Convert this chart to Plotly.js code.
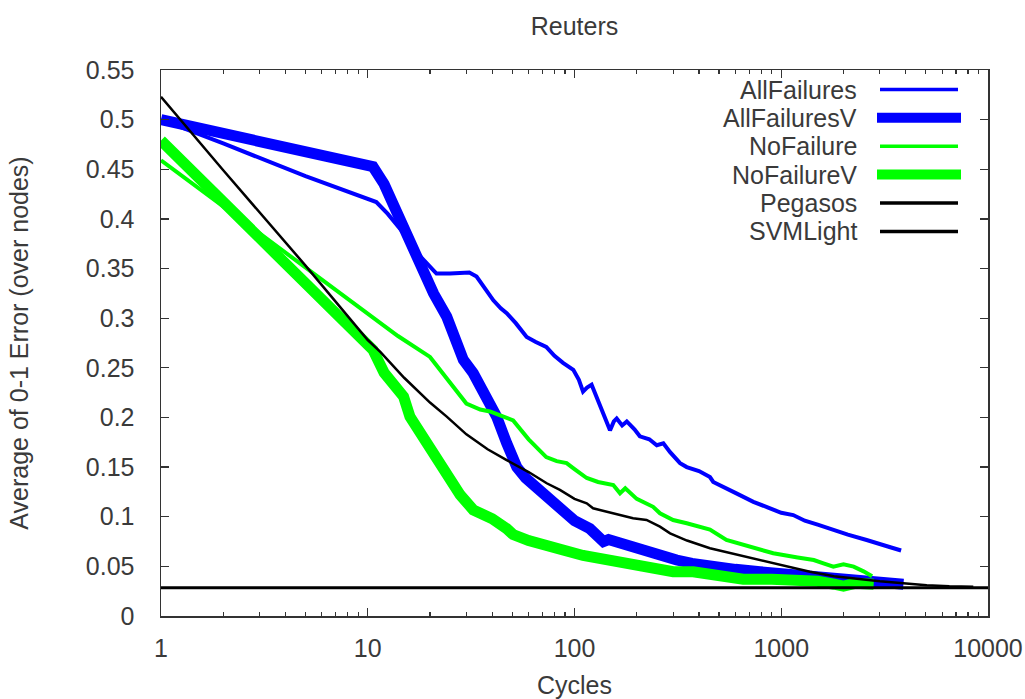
<!DOCTYPE html>
<html><head><meta charset="utf-8">
<script src="https://cdn.plot.ly/plotly-3.0.1.min.js"></script>
<style>html,body{margin:0;padding:0;background:#fff}</style>
</head><body><div id="chart" style="width:1025px;height:699px"></div>
<script>
// ---- data ----
const chartTitle = "Reuters";
const xTitle = "Cycles";
const yTitle = "Average of 0-1 Error (over nodes)";
const xTickVals = [1, 10, 100, 1000, 10000];
const xTickText = ["1", "10", "100", "1000", "10000"];

const allFailuresX = [1, 2, 5, 11, 12.5, 15, 18, 21.5, 25, 31, 33.6, 37, 40.5, 44, 47, 52, 58.7, 65, 73, 80, 88, 98.7, 105, 110, 115, 121, 127, 133, 140, 148.5, 155, 160, 170, 179, 195, 207, 230, 250, 269, 290, 324, 349, 400, 452, 469, 520, 600, 733, 850, 1000, 1143, 1300, 1500, 1786, 2100, 2588, 3000, 3400, 3800];
const allFailuresY = [0.5, 0.476, 0.443, 0.417, 0.405, 0.385, 0.362, 0.345, 0.345, 0.346, 0.342, 0.330, 0.318, 0.310, 0.305, 0.295, 0.281, 0.276, 0.271, 0.262, 0.255, 0.248, 0.238, 0.226, 0.230, 0.233, 0.222, 0.211, 0.200, 0.187, 0.196, 0.199, 0.192, 0.196, 0.188, 0.181, 0.178, 0.172, 0.174, 0.165, 0.154, 0.150, 0.146, 0.140, 0.135, 0.130, 0.124, 0.115, 0.110, 0.104, 0.1017, 0.096, 0.092, 0.0866, 0.082, 0.0766, 0.072, 0.069, 0.066];

const allFailuresVX = [1, 2, 5, 10.6, 12, 14.9, 16, 20.8, 24.1, 29, 32.4, 37, 42, 47, 52.6, 58, 65.6, 75, 88, 100, 118.6, 128, 138, 146, 154, 180, 223, 260, 312, 370, 452, 600, 789, 1000, 1377, 1800, 2404, 3000, 3440, 3900];
const allFailuresVY = [0.5, 0.486, 0.468, 0.4526, 0.435, 0.389, 0.379, 0.325, 0.3015, 0.258, 0.2445, 0.222, 0.2008, 0.174, 0.150, 0.139, 0.130, 0.118, 0.1068, 0.096, 0.088, 0.082, 0.075, 0.077, 0.0755, 0.070, 0.0665, 0.0597, 0.0564, 0.053, 0.0497, 0.047, 0.0446, 0.043, 0.0413, 0.039, 0.0363, 0.034, 0.0336, 0.032];

const noFailureX = [1, 2, 5, 11, 14, 20, 25, 30, 35, 39, 45, 50.5, 60, 73, 82, 91.6, 100, 114.6, 130, 154, 166, 176, 200, 240, 259, 300, 349, 452, 543, 700, 915, 1200, 1437, 1600, 1786, 2000, 2240, 2500, 2750];
const noFailureY = [0.459, 0.4125, 0.351, 0.298, 0.282, 0.261, 0.235, 0.214, 0.208, 0.206, 0.201, 0.197, 0.178, 0.160, 0.156, 0.154, 0.148, 0.139, 0.135, 0.132, 0.1236, 0.1286, 0.118, 0.110, 0.1035, 0.0967, 0.0934, 0.087, 0.0766, 0.070, 0.0632, 0.059, 0.0564, 0.053, 0.0497, 0.052, 0.0497, 0.045, 0.040];

const noFailureVX = [1, 2, 5, 10.6, 12, 14.9, 16, 20, 23.2, 28, 32.4, 40, 47, 50.5, 60, 70, 88, 110, 154, 200, 300, 375, 500, 655, 900, 1143, 1500, 1800, 2000, 2300, 2588, 2800];
const noFailureVY = [0.479, 0.417, 0.335, 0.268, 0.245, 0.221, 0.2008, 0.170, 0.147, 0.122, 0.1068, 0.098, 0.088, 0.082, 0.076, 0.071, 0.0665, 0.061, 0.0547, 0.052, 0.0446, 0.0446, 0.041, 0.037, 0.037, 0.037, 0.035, 0.032, 0.030, 0.033, 0.033, 0.032];

const pegasosX = [1, 2, 5, 10, 11.5, 15, 20, 24.1, 30, 38, 47, 60, 73.4, 85, 100, 114.6, 123, 150, 192, 223, 259, 290, 350, 452, 600, 789, 1000, 1377, 1800, 2404, 3000, 3891, 5056, 6500, 8490];
const pegasosY = [0.523, 0.449, 0.353, 0.278, 0.266, 0.240, 0.215, 0.2008, 0.183, 0.168, 0.157, 0.145, 0.1337, 0.127, 0.118, 0.1135, 0.1085, 0.104, 0.0984, 0.0967, 0.090, 0.0833, 0.076, 0.0682, 0.062, 0.0564, 0.051, 0.0446, 0.040, 0.037, 0.035, 0.033, 0.031, 0.030, 0.0295];

const svmLightX = [1, 10000];
const svmLightY = [0.0285, 0.0285];

const seriesNames = ["AllFailures", "AllFailuresV", "NoFailure", "NoFailureV", "Pegasos", "SVMLight"];

// ---- styles ----
const colors = ["#0000ff", "#0000ff", "#00ff00", "#00ff00", "#000000", "#000000"];
const widths = [4, 11, 4, 11, 2.5, 3];
const xs = [allFailuresX, allFailuresVX, noFailureX, noFailureVX, pegasosX, svmLightX];
const ys = [allFailuresY, allFailuresVY, noFailureY, noFailureVY, pegasosY, svmLightY];

const traces = seriesNames.map((n, i) => ({
  type: "scatter", mode: "lines", name: n, x: xs[i], y: ys[i],
  line: {color: colors[i], width: widths[i], shape: "linear"},
  hoverinfo: "x+y+name"
}));

const FONT = "Liberation Sans, Arial, sans-serif";
const FS = 25;
const TXT = "#3a3a3a";
const L = 161, R = 988, T = 70, B = 616;
const pw = R - L, ph = B - T;

// legend drawn gnuplot-style: text right-aligned, sample on the right
const annotations = [], shapes = [];
const rowY = [89.5, 117.8, 146.2, 174.6, 203, 231.4];
seriesNames.forEach((n, i) => {
  const py = (B - rowY[i]) / ph;
  annotations.push({xref: "paper", yref: "paper", x: (859 - L) / pw, y: py,
    xanchor: "right", yanchor: "middle", showarrow: false, text: n,
    font: {family: FONT, size: FS, color: TXT}});
  const thick = widths[i] > 5;
  shapes.push({type: "line", xref: "paper", yref: "paper",
    x0: ((thick ? 877 : 880) - L) / pw, x1: ((thick ? 961 : 958) - L) / pw, y0: py, y1: py,
    line: {color: colors[i], width: thick ? 10 : 3.5}});
});

const axisCommon = {
  showline: true, linecolor: "#333333", linewidth: 1.5, mirror: "allticks",
  ticks: "inside", ticklen: 8, tickwidth: 1.2, tickcolor: "#333333",
  showgrid: false, zeroline: false,
  tickfont: {family: FONT, size: FS, color: TXT}
};

const layout = {
  width: 1025, height: 699,
  margin: {l: L, r: 1025 - R, t: T, b: 699 - B, pad: 0},
  paper_bgcolor: "#ffffff", plot_bgcolor: "#ffffff",
  showlegend: false,
  title: {text: chartTitle, x: 0.5605, xanchor: "center", y: 0.962, yanchor: "middle",
    font: {family: FONT, size: FS, color: TXT}},
  xaxis: Object.assign({}, axisCommon, {
    type: "log", range: [0, 4], tickvals: xTickVals, ticktext: xTickText,
    ticklabelstandoff: 9,
    minor: {ticks: "inside", ticklen: 4, tickwidth: 1.2, tickcolor: "#333333",
      tickvals: [2,3,4,5,6,7,8,9,20,30,40,50,60,70,80,90,200,300,400,500,600,700,800,900,2000,3000,4000,5000,6000,7000,8000,9000]},
    title: {text: xTitle, font: {family: FONT, size: FS, color: TXT}, standoff: 16}
  }),
  yaxis: Object.assign({}, axisCommon, {
    range: [0, 0.55], dtick: 0.05, tick0: 0,
    ticklabelstandoff: 20,
    title: {text: yTitle, font: {family: FONT, size: FS, color: TXT}, standoff: 50}
  }),
  annotations: annotations, shapes: shapes
};

Plotly.newPlot("chart", traces, layout, {displayModeBar: false, staticPlot: true});
</script></body></html>
